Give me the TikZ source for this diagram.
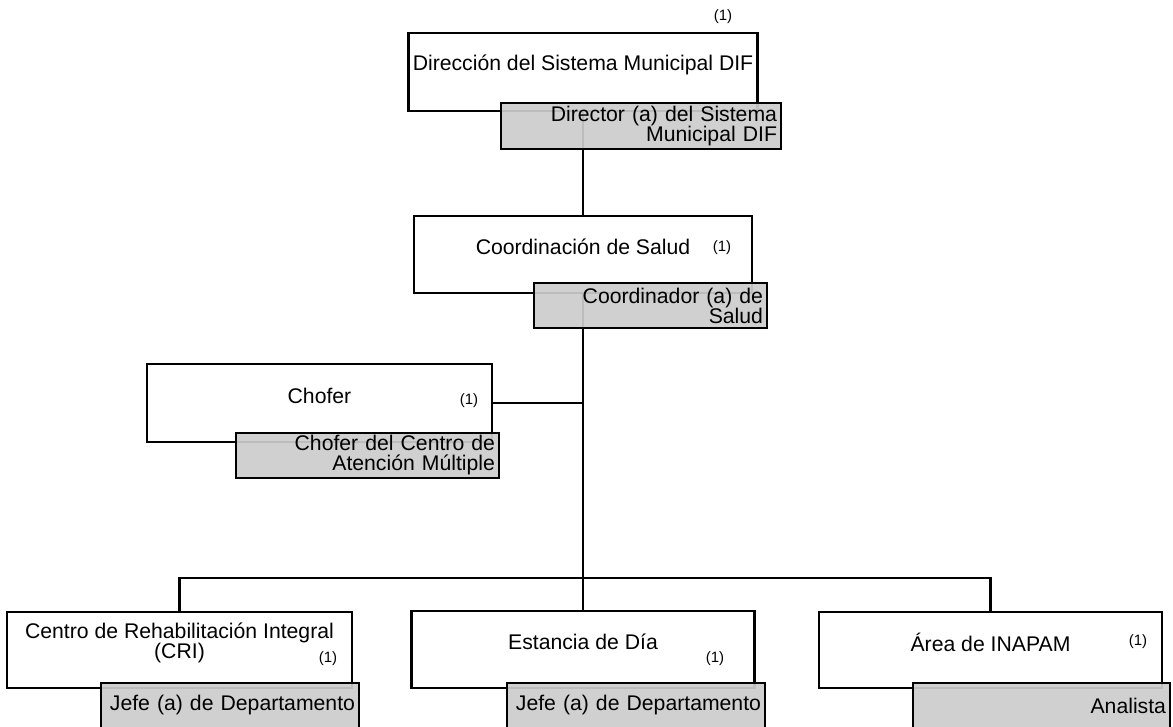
\documentclass[tikz,border=0pt]{standalone}
\usepackage{fontspec}
\setmainfont{Liberation Sans}
\definecolor{gris}{gray}{0.8}
\tikzset{
  unidad/.style 2 args={draw=black, line width=1.3pt, fill=white, inner sep=0pt,
    minimum width=#1*0.5pt, minimum height=#2*0.5pt},
  puesto/.style 2 args={draw=black, line width=1.3pt, fill=gris, fill opacity=0.92,
    text opacity=1, inner xsep=2pt, inner ysep=0pt, align=right,
    text width=#1*0.5pt-4pt, minimum height=#2*0.5pt,
    font=\fontsize{10.6}{10}\selectfont},
  rotulo/.style={align=center, inner sep=0pt, font=\fontsize{10.6}{10}\selectfont},
  nota/.style={inner sep=0pt, font=\fontsize{7.5}{9}\selectfont},
  linea/.style={line width=1.4pt},
}

\begin{document}
\begin{tikzpicture}[x=0.5pt, y=-0.5pt]
            \useasboundingbox (0,0) rectangle (1173,727);
            % unidades
            \node[unidad={349}{78}] (dir) at (583,72) {};
            \node[unidad={338}{77}] (coord) at (583,254.5) {};
            \node[unidad={345}{78}] (chofer) at (319.5,403) {};
            \node[unidad={345}{76}] (cri) at (179.5,650) {};
            \node[unidad={343}{77}] (est) at (583,649.5) {};
            \node[unidad={343}{76}] (inapam) at (990.5,650) {};
            \node[rotulo] (dirtxt) at ([yshift=3.75pt]dir.center) {Dirección del Sistema Municipal DIF};
            \node[rotulo] (coordtxt) at ([yshift=3.75pt]coord.center) {Coordinación de Salud};
            \node[rotulo] (chofertxt) at ([yshift=3.75pt]chofer.center) {Chofer};
            \node[rotulo] (critxt) at ([yshift=3.75pt]cri.center) {Centro de Rehabilitación Integral\\(CRI)};
            \node[rotulo] (esttxt) at ([yshift=3.75pt]est.center) {Estancia de Día};
            \node[rotulo] (inapamtxt) at ([yshift=3.75pt]inapam.center) {Área de INAPAM};
            \node[nota] (dirnota) at (723,17) {(1)};
            \node[nota] (coordnota) at (722,248) {(1)};
            \node[nota] (chofernota) at (469,401) {(1)};
            \node[nota] (crinota) at (328,659) {(1)};
            \node[nota] (estnota) at (715,659) {(1)};
            \node[nota] (inapamnota) at (1138,642) {(1)};
            % lineas
            \coordinate (bus) at (583,578);
            \draw[linea] (dir.south) -- (coord.north);
            \draw[linea] (coord.south) -- (est.north);
            \draw[linea] (chofer.east) -- (chofer.east -| coord.south);
            \draw[linea] (cri.north) |- (bus) -| (inapam.north);
            % puestos
            \node[puesto={280}{46}] (dirp) at (641,126) {Director (a) del Sistema\\Municipal DIF};
            \node[puesto={233}{45}] (coordp) at (650.5,305.5) {Coordinador (a) de\\Salud};
            \node[puesto={263}{45}] (choferp) at (367.5,455.5) {Chofer del Centro de\\Atención Múltiple};
            \node[puesto={258}{45}] (crip) at (230,705.5) {Jefe (a) de Departamento};
            \node[puesto={258}{45}] (estp) at (636,705.5) {Jefe (a) de Departamento};
            \node[puesto={257}{45}] (inapamp) at (1041.5,705.5) {Analista};
\end{tikzpicture}
\end{document}
